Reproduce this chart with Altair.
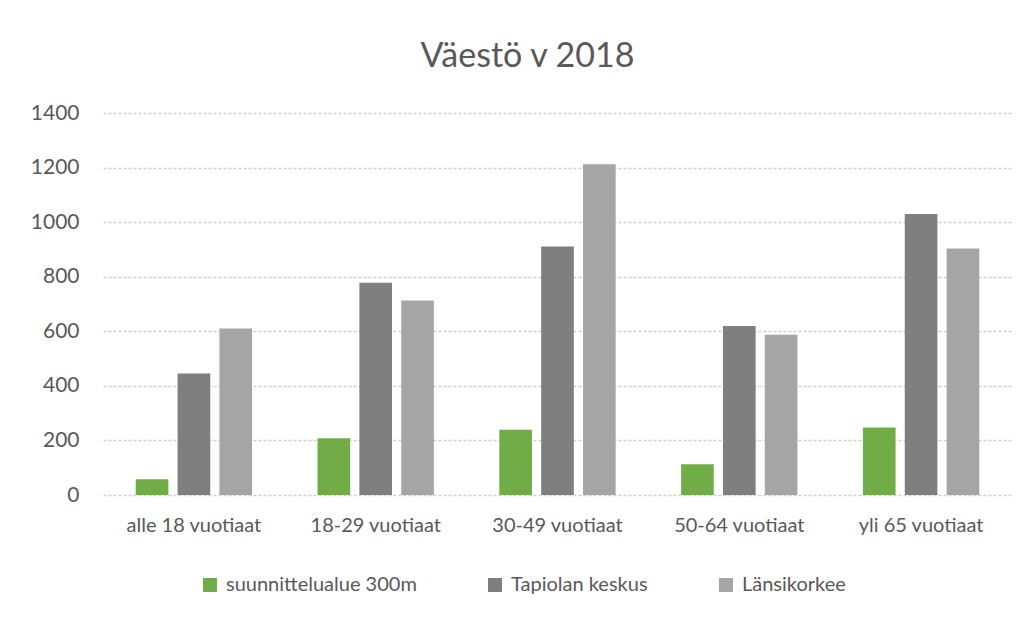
import altair as alt
import pandas as pd

categories = ["alle 18 vuotiaat", "18-29 vuotiaat", "30-49 vuotiaat", "50-64 vuotiaat", "yli 65 vuotiaat"]
series = ["suunnittelualue 300m", "Tapiolan keskus", "Länsikorkee"]
suunnittelualue = [58, 208, 239, 113, 247]
tapiola = [445, 778, 911, 619, 1030]
lansikorkee = [610, 713, 1212, 587, 903]
colors = ["#70AD47", "#7F7F7F", "#A5A5A5"]

rows = []
for vals, s in zip([suunnittelualue, tapiola, lansikorkee], series):
    for c, v in zip(categories, vals):
        rows.append({"ikäryhmä": c, "sarja": s, "arvo": v})
df = pd.DataFrame(rows)

FONT = "Lato"
TXT = "#595959"

chart = alt.Chart(df).mark_bar().encode(
    x=alt.X("ikäryhmä:N", sort=categories,
            scale=alt.Scale(paddingInner=0.36, paddingOuter=0.18),
            axis=alt.Axis(title=None, labelAngle=0, domain=False, ticks=False,
                          labelPadding=20, labelFontSize=20, labelColor=TXT, labelFont=FONT)),
    xOffset=alt.XOffset("sarja:N", sort=series,
                        scale=alt.Scale(paddingInner=0.22, paddingOuter=0)),
    y=alt.Y("arvo:Q", scale=alt.Scale(domain=[0, 1400]),
            axis=alt.Axis(title=None, values=[0, 200, 400, 600, 800, 1000, 1200, 1400],
                          format="d", domain=False, ticks=False, labelPadding=24, labelFontSize=21,
                          labelColor=TXT, labelFont=FONT, gridColor="#D0D0D0",
                          gridDash=[3, 2], gridWidth=1.5)),
    color=alt.Color("sarja:N", sort=series,
                    scale=alt.Scale(domain=series, range=colors),
                    legend=alt.Legend(title=None, orient="none", direction="horizontal",
                                      legendX=97, legendY=462, symbolType="square",
                                      symbolSize=196, symbolStrokeWidth=0, labelLimit=0,
                                      labelFontSize=20, labelColor=TXT, labelFont=FONT,
                                      columnPadding=68, labelOffset=6)),
).properties(
    width=909, height=382,
    title=alt.TitleParams("Väestö v 2018", fontSize=34, font=FONT, color=TXT,
                          fontWeight="normal", anchor="middle", dx=-30, offset=28),
    autosize=alt.AutoSizeParams(type="none"),
    padding={"left": 95, "top": 105, "right": 15, "bottom": 118},
).configure_view(stroke=None)

chart.save("out.html", embed_options={"renderer": "svg", "actions": False})
